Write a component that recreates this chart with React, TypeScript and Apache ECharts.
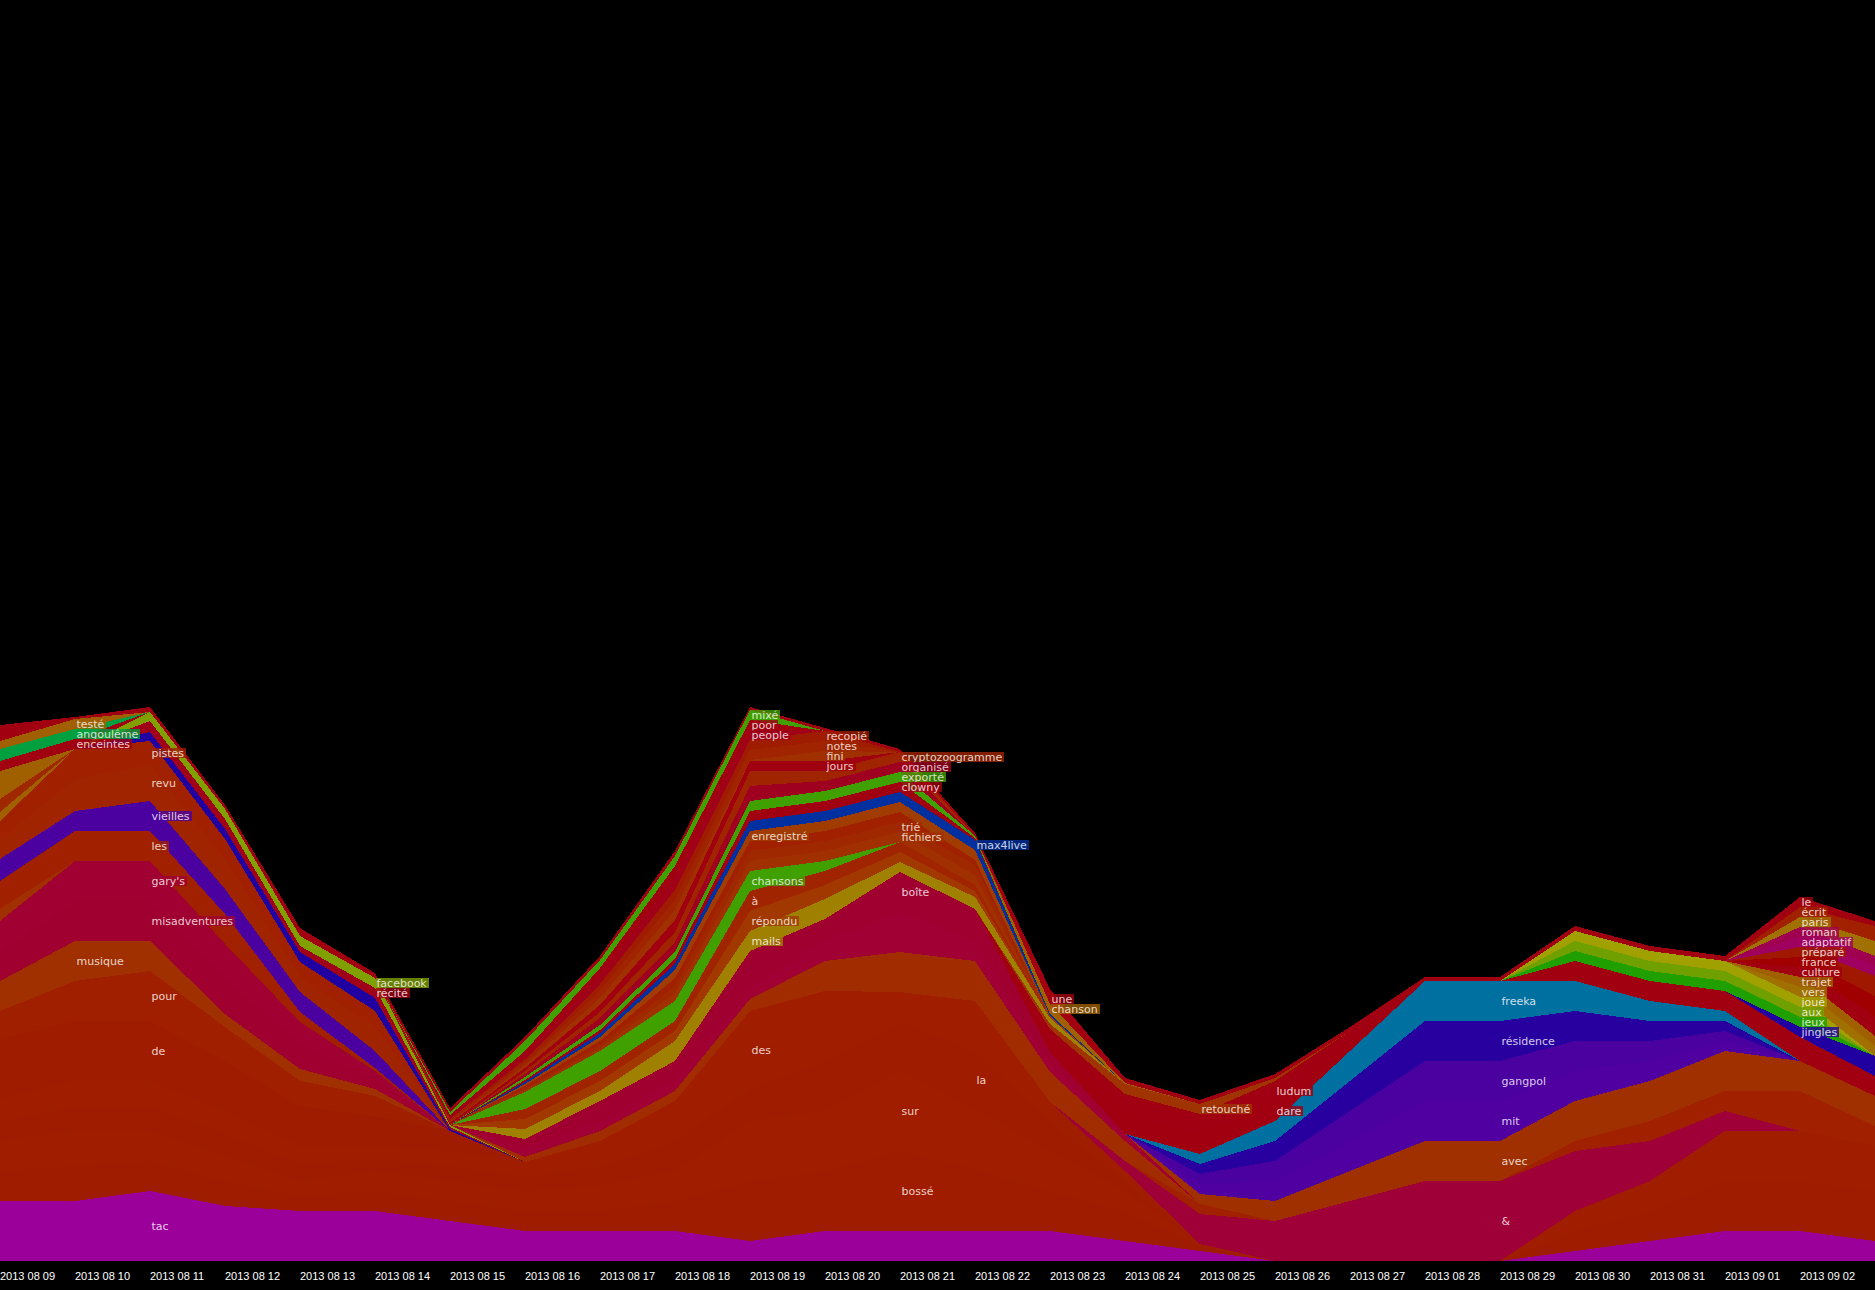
import React, { useEffect, useRef } from 'react';
import * as echarts from 'echarts';

// 26 days; the last one (2013 09 03) lies on the right edge and has no visible tick label
const dates = [
  '2013 08 09', '2013 08 10', '2013 08 11', '2013 08 12', '2013 08 13', '2013 08 14', '2013 08 15',
  '2013 08 16', '2013 08 17', '2013 08 18', '2013 08 19', '2013 08 20', '2013 08 21', '2013 08 22',
  '2013 08 23', '2013 08 24', '2013 08 25', '2013 08 26', '2013 08 27', '2013 08 28', '2013 08 29',
  '2013 08 30', '2013 08 31', '2013 09 01', '2013 09 02', '2013 09 03',
];

// word counts per day (index 0 = 2013 08 09 ... 25 = 2013 09 03)
const tac = [6, 6, 7, 5.5, 5, 5, 4, 3, 3, 3, 2, 3, 3, 3, 3, 2, 1, 0, 0, 0, 0, 1, 2, 3, 3, 2];
const bosse = [3, 3.5, 3, 2.5, 1.5, 2, 2, 2, 2, 3, 6, 6, 8, 6.2, 3.9, 3, 0.4, 0, 0, 0, 0, 2, 3, 5, 5, 5];
const sur = [3, 3.5, 3, 2.5, 1.5, 2, 2, 2, 2.5, 3, 6, 6, 8, 6, 4, 2, 0.3, 0, 0, 0, 0, 2, 3, 5, 5, 4.5];
const la = [2, 2.5, 2.5, 2.2, 1.7, 1.2, 1.5, 1.4, 2, 3, 3.2, 5, 4.9, 5.8, 3, 1, 0, 0, 0, 0, 0, 0, 0, 0, 0, 0];
const des = [2.2, 2.5, 2.5, 2.3, 1.8, 1.3, 1.5, 1.5, 2.5, 4, 7.8, 7, 3, 5, 2, 1, 0, 0, 0, 0, 0, 0, 0, 0, 0, 0];
const de = [6, 6, 6, 5, 4, 3, 2, 0, 0, 0, 0, 0, 0, 0, 0, 0, 0, 0, 0, 0, 0, 0, 0, 0, 0, 0];
const pour = [2.8, 4, 5, 3.4, 2.5, 2, 0, 0, 0, 0, 0, 0, 0, 0, 0, 0, 0, 0, 0, 0, 0, 0, 0, 0, 0, 0];
const musique = [3, 4, 3, 1.3, 1.2, 0.7, 0, 0, 0, 0, 0, 0, 0, 0, 0, 0, 0, 0, 0, 0, 0, 0, 0, 0, 0, 0];
const misadventures = [3, 4, 4, 3.5, 2.5, 1, 0, 0, 0, 0, 0, 0, 0, 0, 0, 0, 0, 0, 0, 0, 0, 0, 0, 0, 0, 0];
const garys = [3, 4, 4, 3.5, 2.2, 0.8, 0, 0, 0, 0, 0, 0, 0, 0, 0, 0, 0, 0, 0, 0, 0, 0, 0, 0, 0, 0];
const bandeD = [1.2, 0, 0, 0, 0, 0, 0, 0, 0, 0, 0, 0, 0, 0, 0, 0, 0, 0, 0, 0, 0, 0, 0, 0, 0, 0];
const les = [2.8, 3, 3, 3, 1, 0.3, 0, 0, 0, 0, 0, 0, 0, 0, 0, 0, 0, 0, 0, 0, 0, 0, 0, 0, 0, 0];
const vieilles = [2.2, 2, 3, 2.5, 2, 1.7, 0, 0, 0, 0, 0, 0, 0, 0, 0, 0, 0, 0, 0, 0, 0, 0, 0, 0, 0, 0];
const revu = [2, 3.2, 3.6, 3, 1.5, 2.5, 0, 0, 0, 0, 0, 0, 0, 0, 0, 0, 0, 0, 0, 0, 0, 0, 0, 0, 0, 0];
const pistes = [1.8, 3, 2.4, 2, 1.5, 1.5, 0, 0, 0, 0, 0, 0, 0, 0, 0, 0, 0, 0, 0, 0, 0, 0, 0, 0, 0, 0];
const bandeC = [0.9, 0, 0, 0, 0, 0, 0, 0, 0, 0, 0, 0, 0, 0, 0, 0, 0, 0, 0, 0, 0, 0, 0, 0, 0, 0];
const bandeB = [1.3, 0, 0, 0, 0, 0, 0, 0, 0, 0, 0, 0, 0, 0, 0, 0, 0, 0, 0, 0, 0, 0, 0, 0, 0, 0];
const bandeA = [2.8, 0, 0, 0, 0, 0, 0, 0, 0, 0, 0, 0, 0, 0, 0, 0, 0, 0, 0, 0, 0, 0, 0, 0, 0, 0];
const bleu = [0, 0, 0.9, 1, 1, 1.3, 0.2, 0, 0, 0, 0, 0, 0, 0, 0, 0, 0, 0, 0, 0, 0, 0, 0, 0, 0, 0];
const recite = [0, 0, 1.1, 1, 0.6, 1, 0.2, 0, 0, 0, 0, 0, 0, 0, 0, 0, 0, 0, 0, 0, 0, 0, 0, 0, 0, 0];
const facebook = [0, 0, 0.9, 1, 1, 1, 0.2, 0, 0, 0, 0, 0, 0, 0, 0, 0, 0, 0, 0, 0, 0, 0, 0, 0, 0, 0];
const enceintes = [1, 1, 0, 0, 0, 0, 0, 0, 0, 0, 0, 0, 0, 0, 0, 0, 0, 0, 0, 0, 0, 0, 0, 0, 0, 0];
const angouleme = [1.2, 1, 0, 0, 0, 0, 0, 0, 0, 0, 0, 0, 0, 0, 0, 0, 0, 0, 0, 0, 0, 0, 0, 0, 0, 0];
const teste = [0.8, 1, 0, 0, 0, 0, 0, 0, 0, 0, 0, 0, 0, 0, 0, 0, 0, 0, 0, 0, 0, 0, 0, 0, 0, 0];
const esperluette = [0, 0, 0, 0, 0, 0, 0, 0, 0, 0, 0, 0, 0, 0, 0, 1, 3, 4, 6, 8, 8, 6, 4, 2, 0, 0];
const bandeRA = [0, 0, 0, 0, 0, 0, 0, 0, 0, 0, 0, 0, 0, 0, 0, 0, 1, 0, 0, 0, 0, 1, 2, 2, 4, 2];
const bandeRB = [0, 0, 0, 0, 0, 0, 0, 0, 0, 0, 0, 0, 0, 0, 0, 0, 0, 0, 0, 0, 0, 1, 2, 3, 3, 3];
const bandeY2 = [0, 0, 0, 0, 0, 0, 0, 0.5, 1, 1, 1.2, 3, 4, 4, 3, 2, 0, 0, 0, 0, 0, 0, 0, 0, 0, 0];
const bandeX2 = [0, 0, 0, 0, 0, 0, 0, 1, 1, 1, 1.2, 2, 4, 2, 1, 0.3, 0, 0, 0, 0, 0, 0, 0, 0, 0, 0];
const boite = [0, 0, 0, 0, 0, 0, 0, 0.8, 2, 2, 3.6, 2.2, 4, 3.2, 1, 0.4, 0, 0, 0, 0, 0, 0, 0, 0, 0, 0];
const avec = [0, 0, 0, 0, 0, 0, 0, 0, 0, 0, 0, 0, 0, 0, 0, 0, 1, 2, 3, 4, 4, 3, 2, 1, 0, 0];
const mit = [0, 0, 0, 0, 0, 0, 0, 0, 0, 0, 0, 0, 0, 0, 0, 0, 1, 2, 3, 4, 4, 3, 2, 1, 0, 0];
const gangpol = [0, 0, 0, 0, 0, 0, 0, 0, 0, 0, 0, 0, 0, 0, 0, 0, 1, 2, 3, 4, 4, 3, 2, 1, 0, 0];
const residence = [0, 0, 0, 0, 0, 0, 0, 0, 0, 0, 0, 0, 0, 0, 0, 0, 1, 2, 3, 4, 4, 3, 2, 1, 0, 0];
const freeka = [0, 0, 0, 0, 0, 0, 0, 0, 0, 0, 0, 0, 0, 0, 0, 0, 1, 2, 3, 4, 4, 3, 2, 1, 0, 0];
const dare = [0, 0, 0, 0, 0, 0, 0, 0, 0, 0, 0, 0, 0, 0, 1.3, 2, 2, 2, 1, 0, 0, 0, 0, 0, 0, 0];
const ludum = [0, 0, 0, 0, 0, 0, 0, 0, 0, 0, 0, 0, 0, 0, 1, 2, 2, 2, 1, 0, 0, 0, 0, 0, 0, 0];
const retouche = [0, 0, 0, 0, 0, 0, 0, 0, 0, 0, 0, 0, 0, 0, 0.5, 1, 1, 0.3, 0, 0, 0, 0, 0, 0, 0, 0];
const mails = [0, 0, 0, 0, 0, 0, 0, 1, 1, 2, 2, 2, 1, 1.2, 0.6, 0, 0, 0, 0, 0, 0, 0, 0, 0, 0, 0];
const repondu = [0, 0, 0, 0, 0, 0, 0, 1, 1, 1, 2, 1.4, 1, 0.6, 0, 0, 0, 0, 0, 0, 0, 0, 0, 0, 0, 0];
const aWord = [0, 0, 0, 0, 0, 0, 0, 1, 1, 1, 2, 1.4, 1, 0.6, 0, 0, 0, 0, 0, 0, 0, 0, 0, 0, 0, 0];
const chansons = [0, 0, 0, 0, 0, 0, 0, 1.7, 2, 2, 2, 1, 0, 0, 0, 0, 0, 0, 0, 0, 0, 0, 0, 0, 0, 0];
const fichiers = [0, 0, 0, 0, 0, 0, 0, 0.2, 0.3, 0.8, 1, 1, 1, 1, 0, 0, 0, 0, 0, 0, 0, 0, 0, 0, 0, 0];
const trie = [0, 0, 0, 0, 0, 0, 0, 0.2, 0.3, 0.7, 1, 1, 1, 1, 0, 0, 0, 0, 0, 0, 0, 0, 0, 0, 0, 0];
const bandeMR = [0, 0, 0, 0, 0, 0, 0, 0.2, 0.4, 0.8, 1, 1, 1, 0.5, 0, 0, 0, 0, 0, 0, 0, 0, 0, 0, 0, 0];
const enregistre = [0, 0, 0, 0, 0, 0, 0, 0.2, 0.4, 0.8, 1, 1, 1, 1, 0.2, 0, 0, 0, 0, 0, 0, 0, 0, 0, 0, 0];
const max4live = [0, 0, 0, 0, 0, 0, 0, 0.2, 0.4, 0.6, 1, 1, 1, 1, 0.2, 0, 0, 0, 0, 0, 0, 0, 0, 0, 0, 0];
const clowny = [0, 0, 0, 0, 0, 0, 0, 0.2, 0.3, 0.5, 1, 1, 1, 0.2, 0, 0, 0, 0, 0, 0, 0, 0, 0, 0, 0, 0];
const exporte = [0, 0, 0, 0, 0, 0, 0, 0.3, 0.5, 0.7, 1, 1, 1, 0.2, 0, 0, 0, 0, 0, 0, 0, 0, 0, 0, 0, 0];
const organise = [0, 0, 0, 0, 0, 0, 0, 0.3, 0.7, 1, 1.5, 1, 1, 0, 0, 0, 0, 0, 0, 0, 0, 0, 0, 0, 0, 0];
const crypto = [0, 0, 0, 0, 0, 0, 0, 0.3, 0.6, 1, 1.5, 1, 1, 0, 0, 0, 0, 0, 0, 0, 0, 0, 0, 0, 0, 0];
const jours = [0, 0, 0, 0, 0, 0, 0.2, 0.3, 0.7, 1.2, 1, 1, 0, 0, 0, 0, 0, 0, 0, 0, 0, 0, 0, 0, 0, 0];
const fini = [0, 0, 0, 0, 0, 0, 0, 0.3, 0.7, 1, 0.1, 1, 0, 0, 0, 0, 0, 0, 0, 0, 0, 0, 0, 0, 0, 0];
const notes = [0, 0, 0, 0, 0, 0, 0.2, 0.3, 0.7, 1, 1, 1, 0, 0, 0, 0, 0, 0, 0, 0, 0, 0, 0, 0, 0, 0];
const recopie = [0, 0, 0, 0, 0, 0, 0.2, 0.3, 0.7, 1, 1, 1, 0, 0, 0, 0, 0, 0, 0, 0, 0, 0, 0, 0, 0, 0];
const people = [0, 0, 0, 0, 0, 0, 0.2, 0.4, 0.8, 1.2, 1, 0, 0, 0, 0, 0, 0, 0, 0, 0, 0, 0, 0, 0, 0, 0];
const poor = [0, 0, 0, 0, 0, 0, 0.2, 0.4, 0.8, 1.2, 1, 0, 0, 0, 0, 0, 0, 0, 0, 0, 0, 0, 0, 0, 0, 0];
const mixe = [0, 0, 0, 0, 0, 0, 0.3, 1, 0.8, 1, 1, 0, 0, 0, 0, 0, 0, 0, 0, 0, 0, 0, 0, 0, 0, 0];
const chanson = [0, 0, 0, 0, 0, 0, 0, 0, 0, 0, 0, 0, 0, 0, 1, 0.1, 0, 0, 0, 0, 0, 0, 0, 0, 0, 0];
const une = [0, 0, 0, 0, 0, 0, 0, 0, 0, 0, 0, 0, 0, 0, 1, 0.1, 0, 0, 0, 0, 0, 0, 0, 0, 0, 0];
const bandeRR = [0, 0, 0, 0, 0, 0, 0, 0, 0, 0, 0, 0, 0, 0, 0, 0, 0, 0, 0, 0, 0, 2, 2, 2, 2.4, 2];
const jingles = [0, 0, 0, 0, 0, 0, 0, 0, 0, 0, 0, 0, 0, 0, 0, 0, 0, 0, 0, 0, 0, 0, 0, 0, 1, 2];
const jeux = [0, 0, 0, 0, 0, 0, 0, 0, 0, 0, 0, 0, 0, 0, 0, 0, 0, 0, 0, 0, 0, 1, 1, 1, 1, 0];
const aux = [0, 0, 0, 0, 0, 0, 0, 0, 0, 0, 0, 0, 0, 0, 0, 0, 0, 0, 0, 0, 0, 1, 1, 1, 1, 0];
const joue = [0, 0, 0, 0, 0, 0, 0, 0, 0, 0, 0, 0, 0, 0, 0, 0, 0, 0, 0, 0, 0, 1, 1, 1, 1, 0];
const vers = [0, 0, 0, 0, 0, 0, 0, 0, 0, 0, 0, 0, 0, 0, 0, 0, 0, 0, 0, 0, 0, 0, 0, 0, 1, 1];
const trajet = [0, 0, 0, 0, 0, 0, 0, 0, 0, 0, 0, 0, 0, 0, 0, 0, 0, 0, 0, 0, 0, 0, 0, 0, 1, 1];
const culture = [0, 0, 0, 0, 0, 0, 0, 0, 0, 0, 0, 0, 0, 0, 0, 0, 0, 0, 0, 0, 0, 0, 0, 0, 1, 2];
const france = [0, 0, 0, 0, 0, 0, 0, 0, 0, 0, 0, 0, 0, 0, 0, 0, 0, 0, 0, 0, 0, 0, 0, 0, 1, 2];
const prepare = [0, 0, 0, 0, 0, 0, 0, 0, 0, 0, 0, 0, 0, 0, 0, 0, 0, 0, 0, 0, 0, 0, 0, 0, 1, 2];
const adaptatif = [0, 0, 0, 0, 0, 0, 0, 0, 0, 0, 0, 0, 0, 0, 0, 0, 0, 0, 0, 0, 0, 0, 0, 0, 1, 1];
const roman = [0, 0, 0, 0, 0, 0, 0, 0, 0, 0, 0, 0, 0, 0, 0, 0, 0, 0, 0, 0, 0, 0, 0, 0, 1, 1];
const paris = [0, 0, 0, 0, 0, 0, 0, 0, 0, 0, 0, 0, 0, 0, 0, 0, 0, 0, 0, 0, 0, 0, 0, 0, 1, 1.5];
const ecrit = [0, 0, 0, 0, 0, 0, 0, 0, 0, 0, 0, 0, 0, 0, 0, 0, 0, 0, 0, 0, 0, 0, 0, 0, 1, 1.5];
const le = [1.6, 0.2, 0.5, 0.4, 0.8, 0.5, 0.4, 0.4, 0.4, 0.5, 0.3, 0.3, 0.3, 0.3, 0.5, 0.4, 0.4, 0.4, 0.4, 0.4, 0.4, 0.5, 0.5, 0.5, 1, 0.5];

// stacking order, bottom to top
const layers: [string, number[]][] = [
  ['tac', tac], ['bossé', bosse], ['sur', sur], ['la', la], ['des', des], ['de', de], ['pour', pour],
  ['musique', musique], ['misadventures', misadventures], ["gary's", garys], ['bande-d', bandeD],
  ['les', les], ['vieilles', vieilles], ['revu', revu], ['pistes', pistes], ['bande-c', bandeC],
  ['bande-b', bandeB], ['bande-a', bandeA], ['bande-bleue', bleu], ['récité', recite],
  ['facebook', facebook], ['enceintes', enceintes], ['angoulême', angouleme], ['testé', teste],
  ['&', esperluette], ['bande-ra', bandeRA], ['bande-rb', bandeRB], ['bande-y2', bandeY2],
  ['bande-x2', bandeX2], ['boîte', boite], ['avec', avec], ['mit', mit], ['gangpol', gangpol],
  ['résidence', residence], ['freeka', freeka], ['dare', dare], ['ludum', ludum],
  ['retouché', retouche], ['mails', mails], ['répondu', repondu], ['à', aWord],
  ['chansons', chansons], ['fichiers', fichiers], ['trié', trie], ['bande-mr', bandeMR],
  ['enregistré', enregistre], ['max4live', max4live], ['clowny', clowny], ['exporté', exporte],
  ['organisé', organise], ['cryptozoogramme', crypto], ['jours', jours], ['fini', fini],
  ['notes', notes], ['recopié', recopie], ['people', people], ['poor', poor], ['mixé', mixe],
  ['chanson', chanson], ['une', une], ['bande-rr', bandeRR], ['jingles', jingles], ['jeux', jeux],
  ['aux', aux], ['joué', joue], ['vers', vers], ['trajet', trajet], ['culture', culture],
  ['france', france], ['préparé', prepare], ['adaptatif', adaptatif], ['roman', roman],
  ['paris', paris], ['écrit', ecrit], ['le', le],
];

// day index where each word's label is written
const labelAt: Record<string, number> = {
  'testé': 1, 'angoulême': 1, 'enceintes': 1, 'musique': 1,
  'pistes': 2, 'revu': 2, 'vieilles': 2, 'les': 2, "gary's": 2, 'misadventures': 2, 'pour': 2, 'de': 2, 'tac': 2,
  'facebook': 5, 'récité': 5,
  'mixé': 10, 'poor': 10, 'people': 10, 'enregistré': 10, 'chansons': 10, 'à': 10, 'répondu': 10, 'mails': 10, 'des': 10,
  'recopié': 11, 'notes': 11, 'fini': 11, 'jours': 11,
  'cryptozoogramme': 12, 'organisé': 12, 'exporté': 12, 'clowny': 12, 'trié': 12, 'fichiers': 12, 'boîte': 12, 'sur': 12, 'bossé': 12,
  'max4live': 13, 'la': 13,
  'une': 14, 'chanson': 14,
  'retouché': 16,
  'ludum': 17, 'dare': 17,
  'freeka': 20, 'résidence': 20, 'gangpol': 20, 'mit': 20, 'avec': 20, '&': 20,
  'le': 24, 'écrit': 24, 'paris': 24, 'roman': 24, 'adaptatif': 24, 'préparé': 24, 'france': 24, 'culture': 24,
  'trajet': 24, 'vers': 24, 'joué': 24, 'aux': 24, 'jeux': 24, 'jingles': 24,
};

const colors: Record<string, string> = {
  'tac': '#9b009b', 'bossé': '#a01c00', 'sur': '#a01d00', 'la': '#a01c00', 'des': '#a01d00', 'de': '#a01c00',
  'pour': '#a01f00', 'musique': '#a03000', 'misadventures': '#a00030', "gary's": '#a00032', 'bande-d': '#a03000',
  'les': '#a02000', 'vieilles': '#4b00a0', 'revu': '#a02400', 'pistes': '#a02000', 'bande-c': '#a06000',
  'bande-b': '#a02800', 'bande-a': '#a06000', 'bande-bleue': '#2000a0', 'récité': '#a00018',
  'facebook': '#80a000', 'enceintes': '#a00010', 'angoulême': '#00a040', 'testé': '#a06000',
  '&': '#a00038', 'bande-ra': '#a02000', 'bande-rb': '#a03000', 'bande-y2': '#a02c00', 'bande-x2': '#a00034',
  'boîte': '#a00030', 'avec': '#a03000', 'mit': '#5000a0', 'gangpol': '#4b00a0', 'résidence': '#2800a0',
  'freeka': '#0070a0', 'dare': '#a00010', 'ludum': '#a00012', 'retouché': '#a03400', 'mails': '#a08000',
  'répondu': '#a03800', 'à': '#a02400', 'chansons': '#40a000', 'fichiers': '#a03000', 'trié': '#a02800',
  'bande-mr': '#a02000', 'enregistré': '#a03c00', 'max4live': '#0030a0', 'clowny': '#a00010',
  'exporté': '#40a000', 'organisé': '#a00020', 'cryptozoogramme': '#a02400', 'jours': '#a00010',
  'fini': '#a03000', 'notes': '#a02400', 'recopié': '#a01c00', 'people': '#a00018', 'poor': '#a00010',
  'mixé': '#40a000', 'chanson': '#a06000', 'une': '#a00010', 'bande-rr': '#a00010', 'jingles': '#2000a0',
  'jeux': '#20a000', 'aux': '#70a000', 'joué': '#a0a000', 'vers': '#a07000', 'trajet': '#a06000',
  'culture': '#a00010', 'france': '#a00000', 'préparé': '#a01800', 'adaptatif': '#a00060', 'roman': '#a00050',
  'paris': '#a07000', 'écrit': '#a02000', 'le': '#a00010',
};

export default function App() {
  const ref = useRef<HTMLDivElement>(null);

  useEffect(() => {
    if (!ref.current) return;
    document.body.style.margin = '0';
    document.body.style.background = '#000';
    const chart = echarts.init(ref.current, undefined, { renderer: 'svg' });

    // bottoms of every layer, to place each word's label in its band
    const bottoms: Record<string, number[]> = {};
    const values: Record<string, number[]> = {};
    let run = dates.map(() => 0);
    layers.forEach(([name, vals]) => {
      bottoms[name] = run.slice();
      values[name] = vals;
      run = run.map((b, i) => b + vals[i]);
    });

    const areaSeries = layers.map(([name, vals]) => ({
      name,
      type: 'line',
      stack: 'total',
      data: vals,
      symbol: 'none',
      showSymbol: false,
      smooth: false,
      silent: true,
      lineStyle: { width: 0 },
      itemStyle: { color: colors[name] },
      areaStyle: { color: colors[name], opacity: 1 },
      emphasis: { disabled: true },
      z: 2,
    }));

    const labelData = Object.keys(labelAt).map((name) => {
      const i = labelAt[name];
      return {
        name,
        value: [i, bottoms[name][i] + values[name][i] / 2],
        label: { backgroundColor: colors[name] },
      };
    });

    chart.setOption({
      animation: false,
      backgroundColor: '#000',
      grid: { left: 0, right: 0, top: 61, bottom: 29, containLabel: false, outerBoundsMode: 'none' },
      xAxis: {
        type: 'category',
        data: dates,
        boundaryGap: false,
        axisLine: { show: false },
        axisTick: { show: false },
        splitLine: { show: false },
        axisLabel: {
          color: '#ffffff',
          fontFamily: "'Liberation Sans Narrow', 'Arial Narrow', 'Liberation Sans', sans-serif",
          fontSize: 11,
          align: 'left',
          margin: 9,
          hideOverlap: false,
          interval: (idx: number) => idx < dates.length - 1,
        },
      },
      yAxis: {
        type: 'value',
        min: 0,
        max: 120,
        show: false,
        splitLine: { show: false },
      },
      series: [
        ...areaSeries,
        {
          type: 'scatter',
          data: labelData,
          symbolSize: 1,
          itemStyle: { color: 'rgba(0,0,0,0)' },
          silent: true,
          z: 10,
          label: {
            show: true,
            formatter: '{b}',
            position: 'right',
            distance: 0,
            color: '#ffffff',
            fontFamily: "'DejaVu Sans', sans-serif",
            fontSize: 11,
            lineHeight: 10,
            padding: [0, 2, 0, 1],
          },
        },
      ],
    });

    return () => chart.dispose();
  }, []);

  return (
    <>
      <style>{'#stream-chart svg path { shape-rendering: crispEdges; }'}</style>
      <div
        id="stream-chart"
        ref={ref}
        style={{ position: 'absolute', left: 0, top: 0, width: 1875, height: 1290, background: '#000' }}
      />
    </>
  );
}
